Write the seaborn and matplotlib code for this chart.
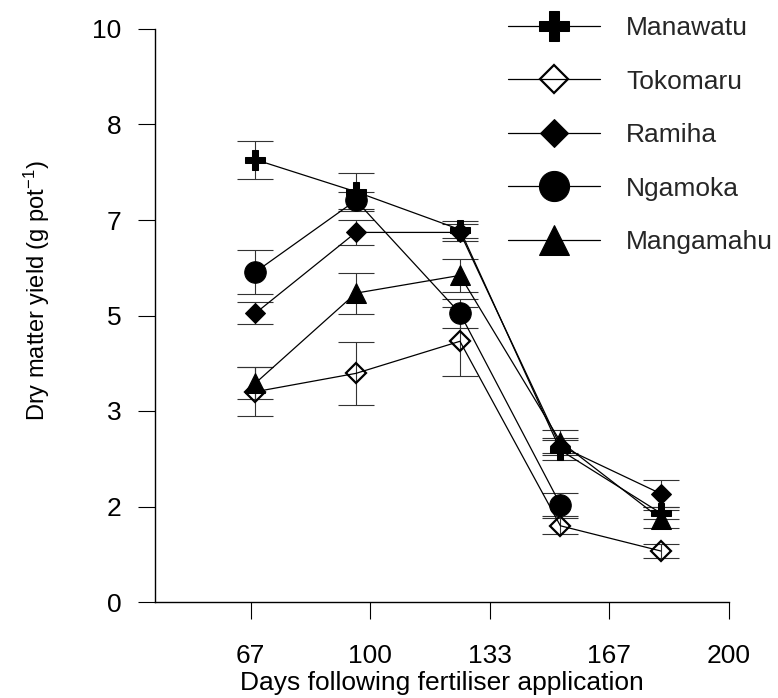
import numpy as np
import pandas as pd
import matplotlib
matplotlib.use('Agg')
import matplotlib.pyplot as plt
import seaborn as sns

# ---- data ----
days = [68, 96, 125, 153, 181]
soils = ['Manawatu', 'Tokomaru', 'Ramiha', 'Ngamoka', 'Mangamahu']
manawatu = [7.72, 7.16, 6.50, 2.65, 1.55]
manawatu_se = [0.33, 0.33, 0.15, 0.18, 0.10]
tokomaru = [3.67, 3.99, 4.55, 1.33, 0.89]
tokomaru_se = [0.43, 0.55, 0.60, 0.14, 0.12]
ramiha = [5.04, 6.45, 6.45, 2.72, 1.89]
ramiha_se = [0.19, 0.22, 0.15, 0.15, 0.24]
ngamoka = [5.76, 7.01, 5.04, 1.70, np.nan]
ngamoka_se = [0.39, 0.15, 0.25, 0.20, np.nan]
mangamahu = [3.82, 5.39, 5.70, 2.80, 1.45]
mangamahu_se = [0.28, 0.36, 0.29, 0.20, 0.15]

x_ticks = [200 / 3, 100, 400 / 3, 500 / 3, 200]
x_ticklabels = ['67', '100', '133', '167', '200']
y_ticks = [0, 10 / 6, 20 / 6, 5, 40 / 6, 50 / 6, 10]
y_ticklabels = ['0', '2', '3', '5', '7', '8', '10']

values = {'Manawatu': (manawatu, manawatu_se),
          'Tokomaru': (tokomaru, tokomaru_se),
          'Ramiha': (ramiha, ramiha_se),
          'Ngamoka': (ngamoka, ngamoka_se),
          'Mangamahu': (mangamahu, mangamahu_se)}

styles = {'Manawatu': dict(marker='P', markersize=15, markerfacecolor='black'),
          'Tokomaru': dict(marker='D', markersize=10, markerfacecolor='none', markeredgewidth=1.6),
          'Ramiha': dict(marker='D', markersize=10, markerfacecolor='black'),
          'Ngamoka': dict(marker='o', markersize=15.5, markerfacecolor='black'),
          'Mangamahu': dict(marker='^', markersize=15, markerfacecolor='black')}

sns.set_theme(style='ticks')
plt.rcParams['font.family'] = ['Liberation Sans', 'DejaVu Sans']
plt.rcParams['mathtext.default'] = 'regular'

fig = plt.figure(figsize=(7.78, 6.98), dpi=100)
ax = fig.add_axes([155 / 778, 1 - 602 / 698, 574 / 778, 573 / 698])

for name in soils:
    y, se = values[name]
    df = pd.DataFrame({'day': days, 'dm': y, 'se': se}).dropna()
    ax.errorbar(df['day'], df['dm'], yerr=df['se'], fmt='none', ecolor='#333333',
                elinewidth=0.8, capsize=13, capthick=0.8, zorder=1)
    st = styles[name]
    sns.lineplot(data=df, x='day', y='dm', ax=ax, color='black', linewidth=0.9,
                 markeredgecolor='black', label=name, zorder=3, **st)

ax.set_xlim(40, 200)
ax.set_ylim(0, 10)
ax.set_xticks(x_ticks)
ax.set_xticklabels(x_ticklabels)
ax.set_yticks(y_ticks)
ax.set_yticklabels(y_ticklabels)
ax.tick_params(direction='out', length=12, width=0.8, labelsize=19,
               colors='black')
ax.tick_params(axis='x', pad=18)
ax.tick_params(axis='y', pad=12)
for s in ['top', 'right']:
    ax.spines[s].set_visible(False)
for s in ['left', 'bottom']:
    ax.spines[s].set_linewidth(1.0)
    ax.spines[s].set_color('black')

ax.set_xlabel('Days following fertiliser application', fontsize=19, color='black')
ax.set_ylabel(r'Dry matter yield (g pot$^{-1}$)', fontsize=17, color='black')
ax.xaxis.set_label_coords(0.5, -0.121)
ax.yaxis.set_label_coords(-0.179, 0.544)

handles, labels = ax.get_legend_handles_labels()
leg = ax.legend(handles, labels, loc='upper left', bbox_to_anchor=(508 / 778, 1 - 16 / 698),
                bbox_transform=fig.transFigure, frameon=False, fontsize=19,
                handlelength=3.48, handletextpad=1.0, labelspacing=1.12,
                borderpad=0, borderaxespad=0, markerscale=1.4)

fig.savefig('out.png', dpi=100)
